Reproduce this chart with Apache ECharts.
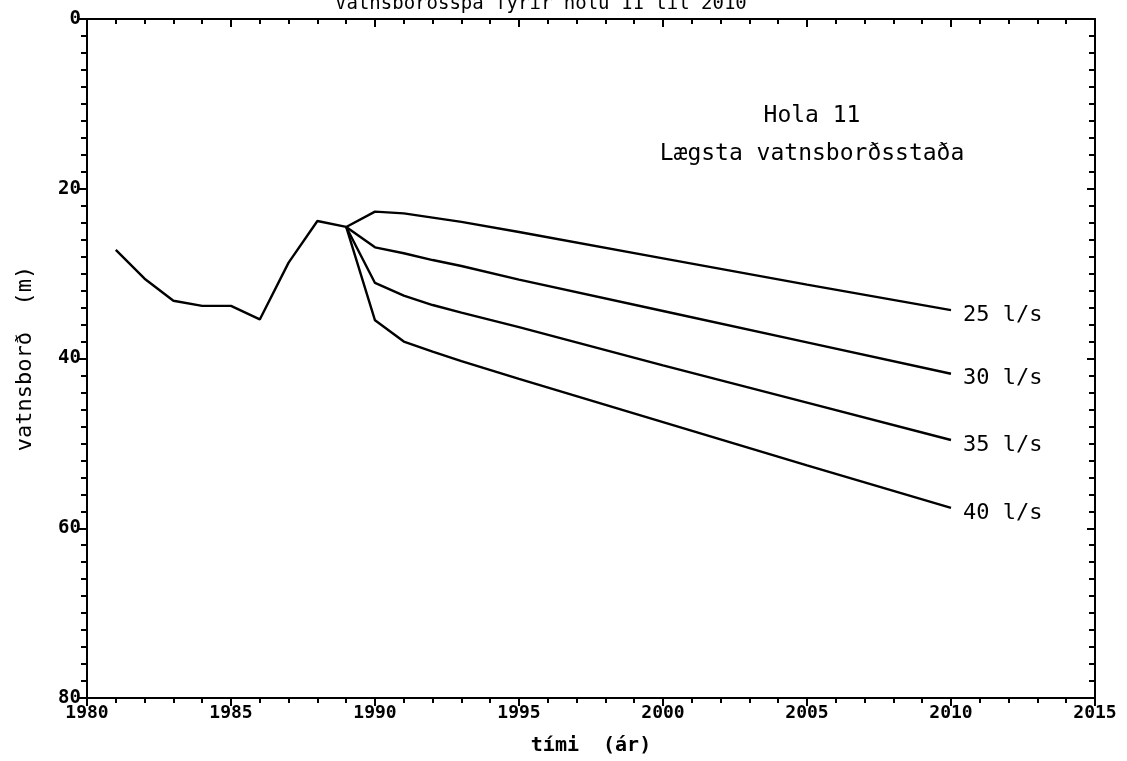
<!DOCTYPE html>
<html>
<head>
<meta charset="utf-8">
<script src="https://cdn.jsdelivr.net/npm/echarts@6/dist/echarts.min.js"></script>
<style>
  html, body { margin: 0; padding: 0; background: #fff; }
  #chart { width: 1127px; height: 761px; }
</style>
</head>
<body>
<div id="chart"></div>
<script>
// measured water level (m below surface)
const histYears = [1981, 1982, 1983, 1984, 1985, 1986, 1987, 1988, 1989];
const histLevel = [27.2, 30.6, 33.2, 33.8, 33.8, 35.4, 28.7, 23.8, 24.5];

// forecast for different pumping rates
const fcYears = [1989, 1990, 1991, 1992, 1993, 1995, 2000, 2005, 2010];
const flow25 = [24.5, 22.7, 22.9, 23.4, 23.9, 25.1, 28.2, 31.3, 34.3];
const flow30 = [24.5, 26.9, 27.6, 28.4, 29.1, 30.7, 34.4, 38.1, 41.8];
const flow35 = [24.5, 31.1, 32.6, 33.7, 34.6, 36.3, 40.8, 45.2, 49.6];
const flow40 = [24.5, 35.5, 38.0, 39.2, 40.3, 42.4, 47.5, 52.6, 57.6];
const flowNames = ["25 l/s", "30 l/s", "35 l/s", "40 l/s"];

const yTicks = [0, 20, 40, 60, 80];
const xTicks = [1980, 1985, 1990, 1995, 2000, 2005, 2010, 2015];

const mono = "DejaVu Sans Mono";
const pair = (xs, ys) => xs.map((x, i) => [x, ys[i]]);

const lineBase = {
  type: "line",
  showSymbol: false,
  symbol: "none",
  lineStyle: { color: "#000", width: 2.4 },
  z: 3,
};

const series = [
  Object.assign({}, lineBase, { name: "saga", data: pair(histYears, histLevel) }),
];
[flow25, flow30, flow35, flow40].forEach((vals, i) => {
  series.push(
    Object.assign({}, lineBase, {
      name: flowNames[i],
      data: pair(fcYears, vals),
      endLabel: {
        show: true,
        formatter: "{a}",
        distance: 12,
        offset: [0, 5],
        color: "#000",
        fontFamily: mono,
        fontSize: 22,
      },
    })
  );
});

function xAxisDef(pos, isMain) {
  return {
    type: "value",
    position: pos,
    min: xTicks[0],
    max: xTicks[xTicks.length - 1],
    interval: 5,
    axisLine: { show: true, onZero: false, lineStyle: { color: "#000", width: 2 } },
    axisTick: { show: true, inside: !isMain, length: 8, lineStyle: { color: "#000", width: 2 } },
    minorTick: { show: true, splitNumber: 5, length: 5, lineStyle: { color: "#000", width: 2 } },
    axisLabel: {
      show: isMain,
      formatter: (v) => String(v),
      color: "#000",
      fontFamily: mono,
      fontWeight: "bold",
      fontSize: 18,
      margin: 6,
    },
    splitLine: { show: false },
    name: isMain ? "tími  (ár)" : "",
    nameLocation: "middle",
    nameGap: 38,
    nameTextStyle: { color: "#000", fontFamily: mono, fontWeight: "bold", fontSize: 20 },
  };
}

function yAxisDef(pos, isMain) {
  return {
    type: "value",
    position: pos,
    inverse: true,
    min: yTicks[0],
    max: yTicks[yTicks.length - 1],
    interval: 20,
    axisLine: { show: true, onZero: false, lineStyle: { color: "#000", width: 2 } },
    axisTick: { show: true, inside: !isMain, length: 8, lineStyle: { color: "#000", width: 2 } },
    minorTick: { show: true, splitNumber: 10, length: 6, lineStyle: { color: "#000", width: 2 } },
    axisLabel: {
      show: isMain,
      color: "#000",
      fontFamily: mono,
      fontWeight: "bold",
      fontSize: 19,
      margin: 6,
    },
    splitLine: { show: false },
    name: isMain ? "vatnsborð  (m)" : "",
    nameLocation: "middle",
    nameGap: 51,
    nameTextStyle: { color: "#000", fontFamily: mono, fontSize: 22 },
  };
}

const chart = echarts.init(document.getElementById("chart"));
chart.setOption({
  animation: false,
  backgroundColor: "#fff",
  title: {
    text: "Vatnsborðsspá fyrir holu 11 til 2010",
    left: 330,
    top: -10,
    textStyle: { color: "#000", fontFamily: mono, fontWeight: "normal", fontSize: 19 },
  },
  grid: { left: 87, right: 32, top: 19, bottom: 61 },
  xAxis: [xAxisDef("bottom", true), xAxisDef("top", false)],
  yAxis: [yAxisDef("left", true), yAxisDef("right", false)],
  graphic: [
    {
      type: "text",
      x: 812,
      y: 116,
      style: {
        text: "Hola 11",
        fill: "#000",
        font: "23px '" + mono + "'",
        align: "center",
        verticalAlign: "middle",
      },
    },
    {
      type: "text",
      x: 812,
      y: 154,
      style: {
        text: "Lægsta vatnsborðsstaða",
        fill: "#000",
        font: "23px '" + mono + "'",
        align: "center",
        verticalAlign: "middle",
      },
    },
  ],
  series: series,
});
</script>
</body>
</html>
